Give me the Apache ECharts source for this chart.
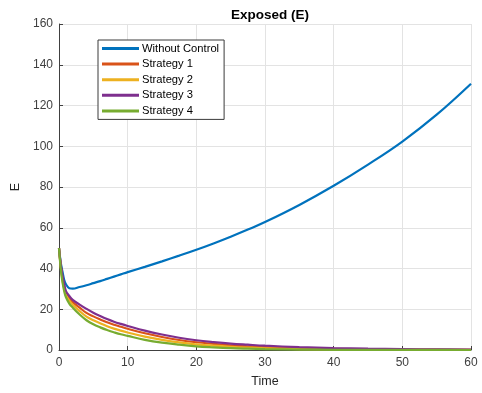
<!DOCTYPE html>
<html>
<head>
<meta charset="utf-8">
<script src="https://cdn.jsdelivr.net/npm/echarts@6/dist/echarts.min.js"></script>
<style>html,body{margin:0;padding:0;background:#fff}#c{width:482px;height:393px}</style>
</head>
<body>
<div id="c"></div>
<script>
const times = [0,0.25,0.5,0.75,1,1.5,2,3,4,5,6,7,8,9,10,12.5,15,17.5,20,22.5,25,27.5,30,35,40,45,50,55,60];
const withoutControl = [50,43,38.5,34.5,32.3,30.3,30.1,30.9,31.8,32.8,33.8,34.9,36,37.1,38.2,40.8,43.5,46.3,49.2,52.3,55.6,59.1,62.8,71.2,80.6,91,102.3,115.5,130.7];
const strategy1 = [50,41.5,35.5,31.5,28,25.5,23.5,20.8,18.2,16.5,15,13.6,12.4,11.4,10.4,8.2,6.4,4.9,3.8,3.0,2.3,1.8,1.4,0.85,0.55,0.35,0.22,0.14,0.09];
const strategy2 = [50,41,34.5,30.3,27,24.2,22.2,19.1,16.4,14.6,13.1,11.7,10.5,9.5,8.6,6.6,5.0,3.7,2.8,2.1,1.55,1.15,0.85,0.47,0.26,0.15,0.08,0.05,0.03];
const strategy3 = [50,42,36.5,32.5,29,26.5,24.6,22.3,20.2,18.3,16.7,15.2,13.9,12.8,11.8,9.5,7.6,6.0,4.8,3.9,3.15,2.6,2.1,1.4,0.95,0.65,0.45,0.3,0.2];
const strategy4 = [50,40,33.5,29,26,22.8,20.8,17.4,14.6,12.6,11.1,9.8,8.7,7.7,6.9,5.0,3.6,2.6,1.8,1.3,0.9,0.65,0.45,0.22,0.11,0.05,0.03,0.02,0.01];
const seriesNames = ['Without Control','Strategy 1','Strategy 2','Strategy 3','Strategy 4'];
const colors = ['#0072BD','#D95319','#EDB120','#7E2F8E','#77AC30'];
const xTicks = {min:0,max:60,interval:10};
const yTicks = {min:0,max:160,interval:20};

const allData = [withoutControl,strategy1,strategy2,strategy3,strategy4];
const chart = echarts.init(document.getElementById('c'), null, {renderer:'canvas'});
const font = 'Liberation Sans, Arial, Helvetica, sans-serif';
chart.setOption({
  animation:false,
  backgroundColor:'#ffffff',
  title:{text:'Exposed (E)',left:265,top:3,textAlign:'center',
    textStyle:{fontFamily:font,fontSize:13.5,fontWeight:'bold',color:'#000'}},
  grid:{left:59,right:11,top:24,bottom:43,containLabel:false},
  legend:{orient:'vertical',left:98,top:40,padding:[2,5,2,4],itemGap:2.6,
    itemWidth:37,itemHeight:3,icon:'rect',
    backgroundColor:'#fff',borderColor:'#3a3a3a',borderWidth:1,borderRadius:0,
    data:seriesNames,
    textStyle:{fontFamily:font,fontSize:11.2,color:'#000',lineHeight:13,padding:[0,0,0,-2]}},
  xAxis:{type:'value',min:xTicks.min,max:xTicks.max,interval:xTicks.interval,
    name:'Time',nameLocation:'middle',nameGap:25,
    nameTextStyle:{fontFamily:font,fontSize:12.5,color:'#262626'},
    axisLine:{show:true,onZero:false,lineStyle:{color:'#404040',width:1}},
    axisTick:{show:true,inside:true,length:4,lineStyle:{color:'#404040'}},
    axisLabel:{fontFamily:font,fontSize:12,color:'#404040',margin:7},
    splitLine:{show:true,lineStyle:{color:'#e3e3e3',width:1}}},
  yAxis:{type:'value',min:yTicks.min,max:yTicks.max,interval:yTicks.interval,
    name:'E',nameLocation:'middle',nameGap:33,nameRotate:90,
    nameTextStyle:{fontFamily:font,fontSize:12.5,color:'#262626'},
    axisLine:{show:true,onZero:false,lineStyle:{color:'#404040',width:1}},
    axisTick:{show:true,inside:true,length:4,lineStyle:{color:'#404040'}},
    axisLabel:{fontFamily:font,fontSize:12,color:'#404040',margin:6},
    splitLine:{show:true,lineStyle:{color:'#e3e3e3',width:1}}},
  series: seriesNames.map((n,i)=>({
    name:n,type:'line',showSymbol:false,symbol:'none',smooth:0.4,
    color:colors[i],lineStyle:{width:2.2,color:colors[i]},
    data:times.map((t,k)=>[t,allData[i][k]]),z:2+i
  }))
});
</script>
</body>
</html>
